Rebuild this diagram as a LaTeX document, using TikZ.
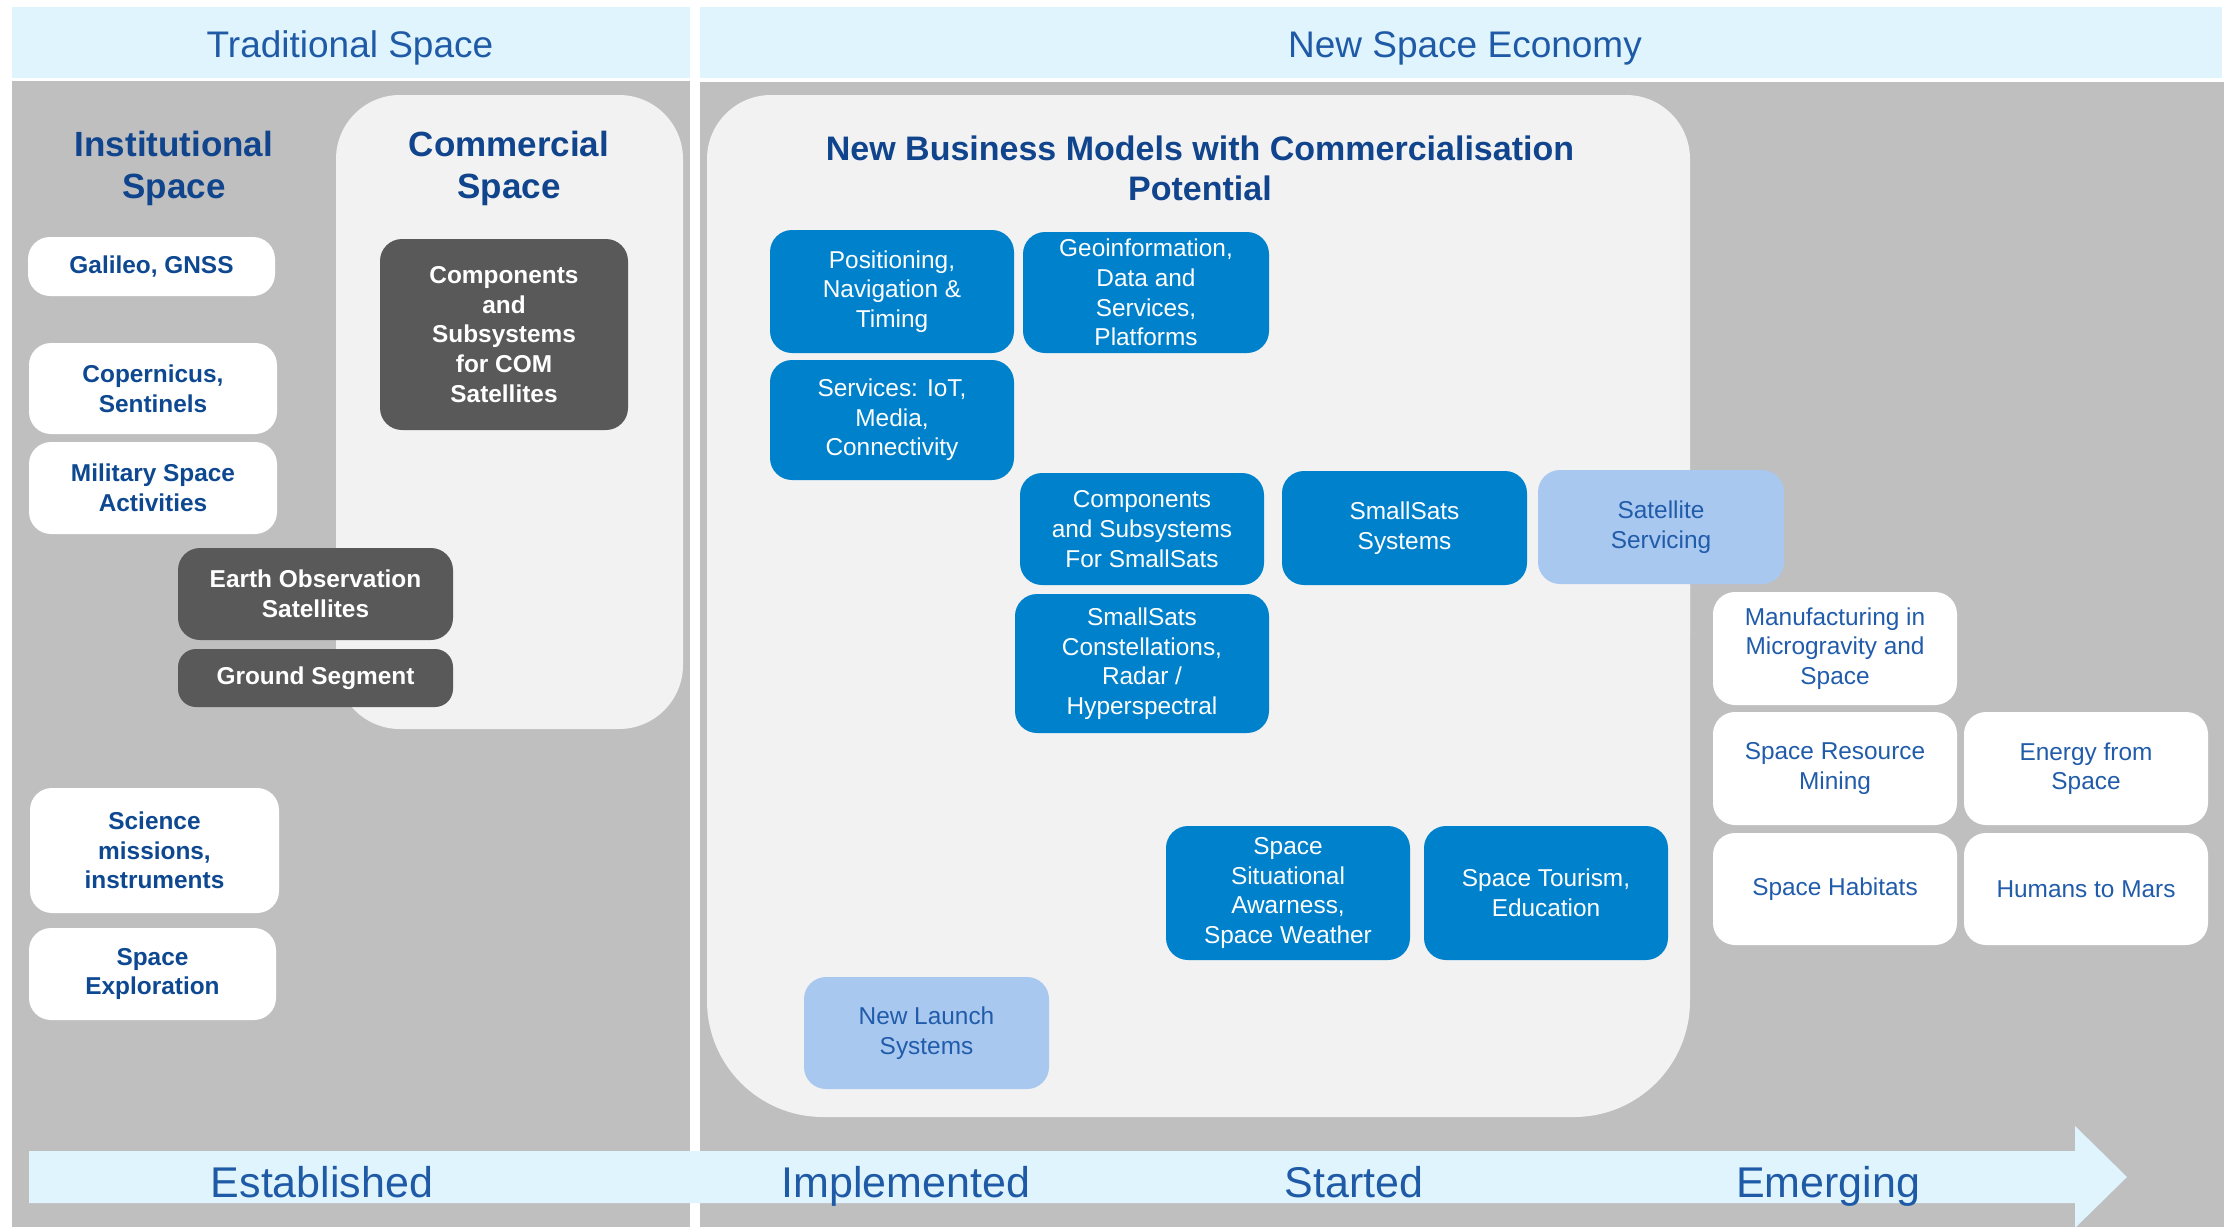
\documentclass[tikz,border=0pt]{standalone}
\usepackage{fontspec}
\setmainfont{Liberation Sans}
\usepackage{tikz}
\usepackage{xcolor}
\definecolor{bandcyan}{RGB}{223,244,253}
\definecolor{panelgrey}{RGB}{191,191,191}
\definecolor{lightpanel}{RGB}{242,242,242}
\definecolor{darkgrey}{RGB}{89,89,89}
\definecolor{boxblue}{RGB}{0,129,204}
\definecolor{lightblue}{RGB}{168,200,240}
\definecolor{hdrblue}{RGB}{31,90,166}
\definecolor{titleblue}{RGB}{16,68,140}
\definecolor{instblue}{RGB}{14,72,145}
\definecolor{textblue}{RGB}{33,92,170}
\begin{document}
\begin{tikzpicture}[x=0.5pt,y=-0.5pt,
    box/.style={rounded corners=11pt, align=center, inner sep=0pt, minimum width=122pt,
        font=\fontsize{12.2}{14.8}\selectfont},
    instbox/.style={box, fill=white, text=instblue, font=\fontsize{12.2}{14.8}\selectfont\bfseries},
    darkbox/.style={box, fill=darkgrey, text=white, font=\fontsize{12.2}{14.8}\selectfont\bfseries},
    bluebox/.style={box, fill=boxblue, text=white},
    paleblue/.style={box, fill=lightblue, text=textblue},
    futurebox/.style={box, fill=white, text=textblue},
    header/.style={text=hdrblue, anchor=base, font=\fontsize{18.5}{22}\selectfont},
    stage/.style={text=hdrblue, anchor=base, font=\fontsize{21.5}{26}\selectfont},
    title/.style={text=titleblue, align=center, font=\fontsize{17.5}{21}\selectfont\bfseries}]
        \fill[white] (0,0) rectangle (2224,1227);
        \useasboundingbox (0,0) rectangle (2224,1227);
        \fill[bandcyan] (12,7) rectangle (690,78);
        \fill[bandcyan] (700,7) rectangle (2222,78);
        \fill[panelgrey] (12,81) rectangle (690,1227);
        \fill[panelgrey] (700,82) rectangle (2224,1227);
        \fill[lightpanel, rounded corners=32pt] (336,95) rectangle (683,729);
        \fill[lightpanel, rounded corners=32pt] (707,95) rectangle (1690,700);
        \fill[lightpanel, rounded corners=58pt] (707,400) rectangle (1690,1117);
        \node[header] (trad) at (350,57) {Traditional Space};
        \node[header] (newsp) at (1465,57) {New Space Economy};
        \node[title] (inst) at (174,168) {Institutional\\Space};
        \node[title] (comm) at (509,168) {Commercial\\Space};
        \node[title, font=\fontsize{17}{20}\selectfont\bfseries] (nbm) at (1200,168)
            {New Business Models with Commercialisation\\Potential};
        \node[instbox, minimum width=123.5pt, minimum height=29.5pt] (gal) at (151.5,266.5) {Galileo, GNSS};
        \node[instbox, minimum width=124pt, minimum height=45.5pt] (cop) at (153,388.5) {Copernicus,\\Sentinels};
        \node[instbox, minimum width=124pt, minimum height=46pt] (mil) at (153,488) {Military Space\\Activities};
        \node[instbox, minimum width=124.5pt, minimum height=62.5pt] (sci) at (154.5,850.5) {Science\\missions,\\instruments};
        \node[instbox, minimum width=123.5pt, minimum height=46pt] (expl) at (152.5,974) {Space\\Exploration};
        \node[darkbox, minimum width=124pt, minimum height=95.5pt] (comsat) at (504,334.5)
            {Components\\and\\Subsystems\\for COM\\Satellites};
        \node[darkbox, minimum width=137.5pt, minimum height=46pt] (eo) at (315.5,594) {Earth Observation\\Satellites};
        \node[darkbox, minimum width=137.5pt, minimum height=29pt, rounded corners=9pt] (ground) at (315.5,678) {Ground Segment};
        \node[bluebox, minimum height=61.5pt] (pnt) at (892,291.5) {Positioning,\\Navigation \&\\Timing};
        \node[bluebox, minimum width=123pt, minimum height=60.5pt] (geo) at (1146,292.5)
            {Geoinformation,\\Data and\\Services,\\Platforms};
        \node[bluebox, minimum height=60pt] (iot) at (892,420) {Services: IoT,\\Media,\\Connectivity};
        \node[bluebox, minimum height=56pt] (compsat) at (1142,529) {Components\\and Subsystems\\For SmallSats};
        \node[bluebox, minimum width=122.5pt, minimum height=57pt] (smallsys) at (1404.5,528) {SmallSats\\Systems};
        \node[paleblue, minimum width=123pt, minimum height=57pt] (satserv) at (1661,527) {Satellite\\Servicing};
        \node[bluebox, minimum width=127pt, minimum height=69.5pt] (constel) at (1142,663.5)
            {SmallSats\\Constellations,\\Radar /\\Hyperspectral};
        \node[bluebox, minimum height=67pt] (ssa) at (1288,893) {Space\\Situational\\Awarness,\\Space Weather};
        \node[bluebox, minimum height=67pt] (tour) at (1546,893) {Space Tourism,\\Education};
        \node[paleblue, minimum width=122.5pt, minimum height=56pt] (launch) at (926.5,1033) {New Launch\\Systems};
        \node[futurebox, minimum height=56.5pt] (manuf) at (1835,648.5) {Manufacturing in\\Microgravity and\\Space};
        \node[futurebox, minimum height=56.5pt] (mining) at (1835,768.5) {Space Resource\\Mining};
        \node[futurebox, minimum height=56.5pt] (energy) at (2086,768.5) {Energy from\\Space};
        \node[futurebox, minimum height=56pt] (habitat) at (1835,889) {Space Habitats};
        \node[futurebox, minimum height=56pt] (mars) at (2086,889) {Humans to Mars};
        \fill[bandcyan] (29,1151) -- (2075,1151) -- (2075,1126) -- (2127,1177)
            -- (2075,1228) -- (2075,1203) -- (29,1203) -- cycle;
        \node[stage] (est) at (322,1197) {Established};
        \node[stage] (impl) at (906,1197) {Implemented};
        \node[stage] (start) at (1354,1197) {Started};
        \node[stage] (emerg) at (1828,1197) {Emerging};
    \end{tikzpicture}
\end{document}
